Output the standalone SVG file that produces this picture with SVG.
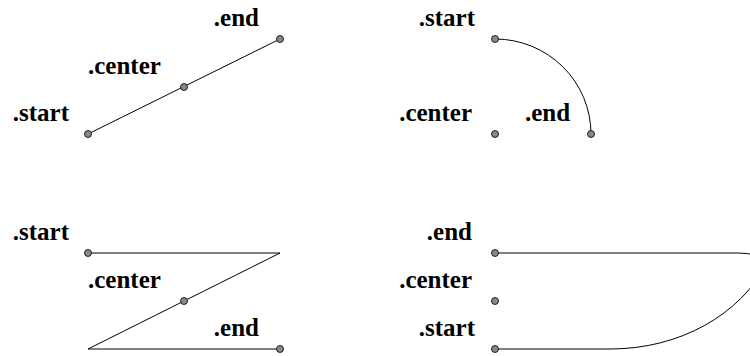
<svg xmlns="http://www.w3.org/2000/svg" width="750" height="356" viewBox="0 0 750 356">
<style>
text{font-family:'Liberation Serif','Times New Roman',Times,serif;font-weight:700;font-size:25px;fill:#000}
.e{text-anchor:end}
.ln{fill:none;stroke:#000;stroke-width:1}
.dot{fill:#888;stroke:#000;stroke-width:0.8}
</style>
<rect width="750" height="356" fill="#fff"/>
<g id="connectors">
<path class="ln" d="M88,134 L280,39"/>
<path class="ln" d="M495,39 A96,95 0 0 1 591,134"/>
<path class="ln" d="M88,253 H280 L88,349 H280"/>
<path class="ln" d="M495,349 H610 C680,349 740,315 768,262 Q758,253 738,253 H495"/>
</g>
<g id="line-node">
<circle class="dot" cx="88" cy="134" r="3.5"/>
<circle class="dot" cx="184" cy="87" r="3.5"/>
<circle class="dot" cx="280" cy="39" r="3.5"/>
<text class="e" x="69" y="121">.start</text>
<text x="88" y="74">.center</text>
<text class="e" x="259" y="26">.end</text>
</g>
<g id="arc-node">
<circle class="dot" cx="495" cy="39" r="3.5"/>
<circle class="dot" cx="495" cy="134" r="3.5"/>
<circle class="dot" cx="591" cy="134" r="3.5"/>
<text class="e" x="475" y="26">.start</text>
<text class="e" x="472" y="121">.center</text>
<text x="525" y="121">.end</text>
</g>
<g id="zigzag-node">
<circle class="dot" cx="88" cy="253" r="3.5"/>
<circle class="dot" cx="184" cy="301" r="3.5"/>
<circle class="dot" cx="280" cy="349" r="3.5"/>
<text class="e" x="69" y="240">.start</text>
<text x="88" y="288">.center</text>
<text class="e" x="259" y="336">.end</text>
</g>
<g id="spline-node">
<circle class="dot" cx="495" cy="253" r="3.5"/>
<circle class="dot" cx="495" cy="301" r="3.5"/>
<circle class="dot" cx="495" cy="349" r="3.5"/>
<text class="e" x="472" y="240">.end</text>
<text class="e" x="472" y="288">.center</text>
<text class="e" x="475" y="336">.start</text>
</g>
</svg>
